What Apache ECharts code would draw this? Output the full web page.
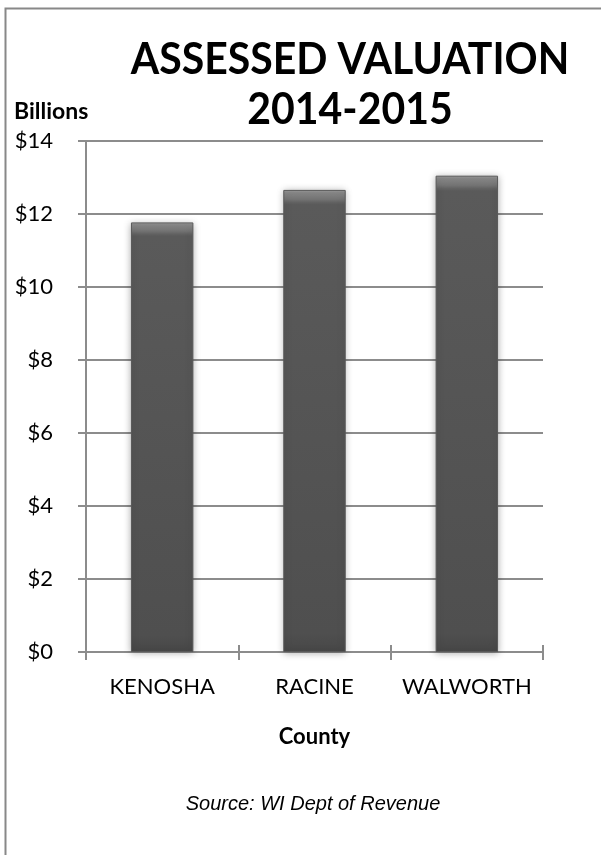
<!DOCTYPE html>
<html>
<head>
<meta charset="utf-8">
<script src="https://cdn.jsdelivr.net/npm/echarts@6/dist/echarts.min.js"></script>
<style>
html,body{margin:0;padding:0;background:#fff;}
#chart{width:601px;height:855px;}
</style>
</head>
<body>
<div id="chart"></div>
<script>
const counties = ['KENOSHA', 'RACINE', 'WALWORTH'];
const valuation = [11.77, 12.66, 13.05];
const yTicks = [0, 2, 4, 6, 8, 10, 12, 14];
const titleLines = ['ASSESSED VALUATION', '2014-2015'];
const yUnit = 'Billions';
const xName = 'County';
const sourceText = 'Source: WI Dept of Revenue';

const chart = echarts.init(document.getElementById('chart'), null, {renderer: 'canvas'});
const axisGray = '#8c8c8c';
const barGrad = new echarts.graphic.LinearGradient(0, 0, 0, 1, [
  {offset: 0, color: '#a2a2a2'},
  {offset: 0.005, color: '#8a8a8a'},
  {offset: 0.02, color: '#747474'},
  {offset: 0.027, color: '#626262'},
  {offset: 0.032, color: '#5a5a5a'},
  {offset: 0.96, color: '#4f4f4f'},
  {offset: 1, color: '#474747'}
]);

chart.setOption({
  backgroundColor: '#ffffff',
  animation: false,
  grid: {left: 86, right: 58, top: 141, bottom: 203, containLabel: false},
  xAxis: [{
    type: 'category',
    data: counties,
    axisLine: {show: true, lineStyle: {color: axisGray, width: 2}},
    axisTick: {show: true, alignWithLabel: false, length: 8, lineStyle: {color: axisGray, width: 2}},
    axisLabel: {margin: 24, interval: 0, hideOverlap: false, color: '#000', fontFamily: 'Lato', fontSize: 22},
    name: xName,
    nameLocation: 'middle',
    nameGap: 74,
    nameTextStyle: {color: '#000', fontFamily: 'Lato', fontWeight: 'bold', fontSize: 22}
  }, {
    type: 'category',
    data: counties,
    position: 'bottom',
    axisLine: {show: false},
    axisTick: {show: true, inside: true, alignWithLabel: false, length: 7, lineStyle: {color: axisGray, width: 2}},
    axisLabel: {show: false}
  }],
  yAxis: {
    type: 'value',
    min: yTicks[0],
    max: yTicks[yTicks.length - 1],
    interval: 2,
    axisLine: {show: true, lineStyle: {color: axisGray, width: 2}},
    axisTick: {show: true, length: 8, lineStyle: {color: axisGray, width: 2}},
    splitLine: {show: true, lineStyle: {color: axisGray, width: 2}},
    axisLabel: {margin: 33, color: '#000', fontFamily: 'Lato', fontSize: 22, formatter: v => '$' + v}
  },
  series: [{
    type: 'bar',
    data: valuation,
    barWidth: '41%',
    itemStyle: {
      color: barGrad,
      borderColor: '#595959',
      borderWidth: 1,
      shadowColor: 'rgba(0,0,0,0.28)',
      shadowBlur: 7,
      shadowOffsetX: 0,
      shadowOffsetY: 1
    }
  }],
  graphic: [
    {type: 'rect', left: 3, top: 6, shape: {x: 0, y: 0, width: 700, height: 900}, style: {fill: 'none', stroke: '#888', lineWidth: 2}, z: -1, silent: true},
    {type: 'text', x: 350, y: 60, scaleY: 1.08, style: {text: titleLines[0], fill: '#000', font: 'bold 41px Lato', textAlign: 'center', textVerticalAlign: 'middle'}},
    {type: 'text', x: 350, y: 110, scaleY: 1.08, style: {text: titleLines[1], fill: '#000', font: 'bold 41px Lato', textAlign: 'center', textVerticalAlign: 'middle'}},
    {type: 'text', x: 14, y: 112, style: {text: yUnit, fill: '#000', font: 'bold 23px Lato', textAlign: 'left', textVerticalAlign: 'middle'}},
    {type: 'text', x: 313, y: 804, style: {text: sourceText, fill: '#000', font: 'italic 20px "Liberation Sans"', textAlign: 'center', textVerticalAlign: 'middle'}}
  ]
});
</script>
</body>
</html>
